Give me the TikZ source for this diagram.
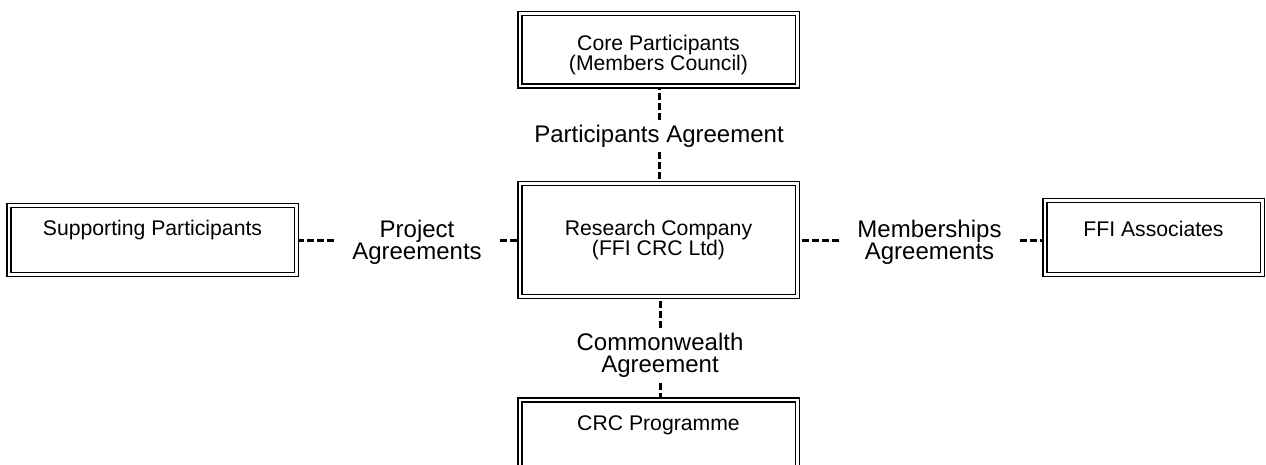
\documentclass[tikz,border=0pt]{standalone}
\usepackage{fontspec}
\setmainfont{Liberation Sans}
\usepackage{tikz}
\usetikzlibrary{backgrounds}
\tikzset{
  box/.style={draw, double, line width=1.5pt, double distance=2.5pt,
    align=center, inner sep=0pt, font=\fontsize{21.2}{19}\selectfont},
  agree/.style={align=center, inner xsep=18pt, inner ysep=5pt,
    font=\fontsize{24}{22}\selectfont},
  link/.style={line width=3pt, dash pattern=on 7pt off 3pt},
}

\begin{document}
\begin{tikzpicture}[x=1pt, y=-1pt, line join=miter]
    \useasboundingbox (0,0) rectangle (1266,465);
    \node[box, minimum width=277.5pt, minimum height=72.5pt] (core) at (658.5,50) {\strut\\[-10pt]Core Participants\\(Members Council)};
    \node[box, minimum width=277.5pt, minimum height=112.5pt] (rc) at (658.5,240) {Research Company\\(FFI CRC Ltd)};
    \node[box, minimum width=287.5pt, minimum height=68.5pt] (supp) at (152.5,240) {Supporting Participants\\\strut};
    \node[box, minimum width=217.5pt, minimum height=73.5pt] (ffi) at (1153.5,237.5) {FFI Associates\\[-8pt]\strut};
    \node[box, minimum width=277.5pt, minimum height=80pt] (crc) at (658.5,439.75) {CRC Programme\\\strut\\[-10pt]\strut};
    \node[agree] (pa) at (659,136) {Participants Agreement};
    \node[agree] (proj) at (417,242) {Project\\Agreements};
    \node[agree] (memb) at (929.5,242) {Memberships\\Agreements};
    \node[agree] (cw) at (660,355.5) {Commonwealth\\Agreement};
    \begin{scope}[on background layer]
        \draw[link] (pa) -- (pa |- core.south);
        \draw[link] (pa) -- (pa |- rc.north);
        \draw[link] (cw) -- (cw |- rc.south);
        \draw[link] (cw) -- (cw |- crc.north);
        \draw[link] (proj.east |- rc) -- (rc.west);
        \draw[link] (proj.west |- supp) -- (supp.east);
        \draw[link] (memb.west |- rc) -- (rc.east);
        \draw[link] (memb.east |- rc) -- (rc -| ffi.west);
    \end{scope}
\end{tikzpicture}
\end{document}
